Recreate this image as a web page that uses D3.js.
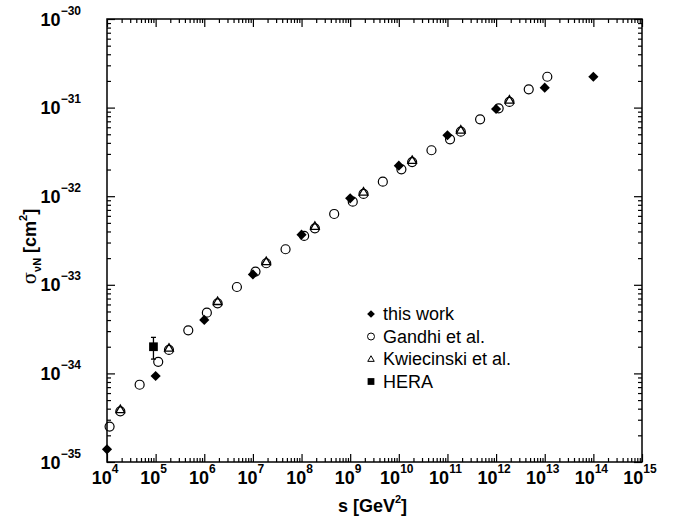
<!DOCTYPE html>
<html lang="en">
<head>
<meta charset="UTF-8">
<title>Neutrino-nucleon cross section</title>
<script src="https://d3js.org/d3.v7.min.js"></script>
<style>
  body { margin: 0; background: #fff; }
  svg { display: block; font-family: "Liberation Sans", Arial, sans-serif; }
  .tick-label { font-weight: bold; font-size: 18px; }
  .axis path { display: none; }
  .axis line { stroke: #000; stroke-width: 1.2px; }
  .legend text { font-size: 18px; }
</style>
</head>
<body>
<div id="chart"></div>
<script>
// --- data ---
const xTickExp = [4, 5, 6, 7, 8, 9, 10, 11, 12, 13, 14, 15];
const yTickExp = [-35, -34, -33, -32, -31, -30];

// this work
const workS = [1e4, 1e5, 1e6, 1e7, 1e8, 1e9, 1e10, 1e11, 1e12, 1e13, 1e14];
const workSigma = [1.39e-35, 9.35e-35, 4.01e-34, 1.31e-33, 3.68e-33, 9.47e-33,
                   2.21e-32, 4.87e-32, 9.64e-32, 1.68e-31, 2.23e-31];

// Gandhi et al.
const gandhiS = [1.13e4, 1.88e4, 4.69e4, 1.13e5, 1.88e5, 4.69e5, 1.13e6, 1.88e6, 4.69e6,
                 1.13e7, 1.88e7, 4.69e7, 1.13e8, 1.88e8, 4.69e8, 1.13e9, 1.88e9, 4.69e9,
                 1.13e10, 1.88e10, 4.69e10, 1.13e11, 1.88e11, 4.69e11, 1.13e12, 1.88e12,
                 4.69e12, 1.13e13];
const gandhiSigma = [2.51e-35, 3.73e-35, 7.45e-35, 1.35e-34, 1.84e-34, 3.06e-34, 4.84e-34,
                     6.18e-34, 9.44e-34, 1.41e-33, 1.75e-33, 2.52e-33, 3.56e-33, 4.34e-33,
                     6.30e-33, 8.67e-33, 1.06e-32, 1.46e-32, 2.01e-32, 2.43e-32, 3.30e-32,
                     4.39e-32, 5.35e-32, 7.38e-32, 9.82e-32, 1.16e-31, 1.61e-31, 2.23e-31];

// Kwiecinski et al.
const kwS = [1.88e4, 1.88e5, 1.88e6, 1.88e7, 1.88e8, 1.88e9, 1.88e10, 1.88e11, 1.88e12];
const kwSigma = [3.85e-35, 1.9e-34, 6.4e-34, 1.8e-33, 4.5e-33, 1.1e-32, 2.5e-32, 5.5e-32, 1.2e-31];

// HERA
const heraS = [9.02e4];
const heraSigma = [2.0e-34];
const heraHi = [2.55e-34];
const heraLo = [1.45e-34];

const legendLabels = ["this work", "Gandhi et al.", "Kwiecinski et al.", "HERA"];

// --- layout ---
const width = 678, height = 518;
const mLeft = 107, mRight = 642, mTop = 19, mBottom = 462;

const svg = d3.select("#chart").append("svg")
    .attr("width", width)
    .attr("height", height);

const x = d3.scaleLog().domain([1e4, 1e15]).range([mLeft, mRight]);
const y = d3.scaleLog().domain([1e-35, 1e-30]).range([mBottom, mTop]);

// major / minor tick values
const xMajor = xTickExp.map(e => Math.pow(10, e));
const yMajor = yTickExp.map(e => Math.pow(10, e));
const xMinor = [], yMinor = [];
xTickExp.slice(0, -1).forEach(e => d3.range(2, 10).forEach(k => xMinor.push(k * Math.pow(10, e))));
yTickExp.slice(0, -1).forEach(e => d3.range(2, 10).forEach(k => yMinor.push(k * Math.pow(10, e))));

function drawAxis(gen, transform) {
    svg.append("g").attr("class", "axis").attr("transform", transform).call(gen);
}
// bottom / top
drawAxis(d3.axisBottom(x).tickValues(xMajor).tickSize(-8).tickFormat(""), `translate(0,${mBottom})`);
drawAxis(d3.axisBottom(x).tickValues(xMinor).tickSize(-4).tickFormat(""), `translate(0,${mBottom})`);
drawAxis(d3.axisTop(x).tickValues(xMajor).tickSize(-8).tickFormat(""), `translate(0,${mTop})`);
drawAxis(d3.axisTop(x).tickValues(xMinor).tickSize(-4).tickFormat(""), `translate(0,${mTop})`);
// left / right
drawAxis(d3.axisLeft(y).tickValues(yMajor).tickSize(-8).tickFormat(""), `translate(${mLeft},0)`);
drawAxis(d3.axisLeft(y).tickValues(yMinor).tickSize(-4).tickFormat(""), `translate(${mLeft},0)`);
drawAxis(d3.axisRight(y).tickValues(yMajor).tickSize(-8).tickFormat(""), `translate(${mRight},0)`);
drawAxis(d3.axisRight(y).tickValues(yMinor).tickSize(-4).tickFormat(""), `translate(${mRight},0)`);

// frame
svg.append("rect")
    .attr("x", mLeft).attr("y", mTop)
    .attr("width", mRight - mLeft).attr("height", mBottom - mTop)
    .attr("fill", "none").attr("stroke", "#000").attr("stroke-width", 1.5);

// tick labels with superscripts
const xl = svg.append("g").selectAll("text").data(xTickExp).join("text")
    .attr("class", "tick-label")
    .attr("x", d => x(Math.pow(10, d)) - 2)
    .attr("y", mBottom + 22)
    .attr("text-anchor", "middle");
xl.append("tspan").text("10");
xl.append("tspan").attr("dy", -11).attr("font-size", 12).text(d => d);

const yl = svg.append("g").selectAll("text").data(yTickExp).join("text")
    .attr("class", "tick-label")
    .attr("x", 81)
    .attr("y", d => y(Math.pow(10, d)) + 6.5)
    .attr("text-anchor", "end");
yl.append("tspan").text("10");
yl.append("tspan").attr("dy", -11).attr("font-size", 12).text(d => "\u2212" + Math.abs(d));

// axis titles
const xt = svg.append("text")
    .attr("x", (mLeft + mRight) / 2 - 2)
    .attr("y", 512)
    .attr("text-anchor", "middle")
    .attr("font-weight", "bold")
    .attr("font-size", 18);
xt.append("tspan").text("s [GeV");
xt.append("tspan").attr("dy", -9).attr("font-size", 11).text("2");
xt.append("tspan").attr("dy", 9).text("]");

const yt = svg.append("text")
    .attr("transform", `translate(36,${(mTop + mBottom) / 2 + 6}) rotate(-90)`)
    .attr("text-anchor", "middle")
    .attr("font-size", 18);
yt.append("tspan").attr("font-family", "DejaVu Serif, serif").attr("font-size", 18).text("\u03c3");
yt.append("tspan").attr("dy", 5).attr("font-size", 11).attr("font-weight", "bold").text("\u03bdN");
yt.append("tspan").attr("dy", -5).attr("font-weight", "bold").text(" [cm");
yt.append("tspan").attr("dy", -9).attr("font-size", 11).attr("font-weight", "bold").text("2");
yt.append("tspan").attr("dy", 9).attr("font-weight", "bold").text("]");

// --- markers ---
const plot = svg.append("g");
const diamond = d3.symbol().type(d3.symbolDiamond2).size(66);
const triangle = d3.symbol().type(d3.symbolTriangle2).size(54);
const square = d3.symbol().type(d3.symbolSquare).size(76);

// HERA error bar
heraS.forEach((s, i) => {
    plot.append("line")
        .attr("x1", x(s)).attr("x2", x(s))
        .attr("y1", y(heraHi[i])).attr("y2", y(heraLo[i]))
        .attr("stroke", "#000").attr("stroke-width", 1.3);
    [heraHi[i], heraLo[i]].forEach(v => plot.append("line")
        .attr("x1", x(s) - 2.5).attr("x2", x(s) + 2.5)
        .attr("y1", y(v)).attr("y2", y(v))
        .attr("stroke", "#000").attr("stroke-width", 1.3));
});
plot.selectAll(".hera").data(heraS).join("path")
    .attr("class", "hera")
    .attr("transform", (d, i) => `translate(${x(d)},${y(heraSigma[i])})`)
    .attr("d", square).attr("fill", "#000");

plot.selectAll(".work").data(workS).join("path")
    .attr("class", "work")
    .attr("transform", (d, i) => `translate(${x(d)},${y(workSigma[i])})`)
    .attr("d", diamond).attr("fill", "#000");

plot.selectAll(".gandhi").data(gandhiS).join("circle")
    .attr("class", "gandhi")
    .attr("cx", d => x(d)).attr("cy", (d, i) => y(gandhiSigma[i]))
    .attr("r", 4.5)
    .attr("fill", "none").attr("stroke", "#000").attr("stroke-width", 1.2);

plot.selectAll(".kw").data(kwS).join("path")
    .attr("class", "kw")
    .attr("transform", (d, i) => `translate(${x(d)},${y(kwSigma[i])})`)
    .attr("d", triangle)
    .attr("fill", "none").attr("stroke", "#000").attr("stroke-width", 1.3);

// --- legend ---
const lg = svg.append("g").attr("class", "legend");
const rowY = [314, 336.5, 359, 381.5];
const lx = 371;
lg.append("path").attr("transform", `translate(${lx},${rowY[0]})`)
    .attr("d", d3.symbol().type(d3.symbolDiamond2).size(38)).attr("fill", "#000");
lg.append("circle").attr("cx", lx).attr("cy", rowY[1]).attr("r", 3.5)
    .attr("fill", "none").attr("stroke", "#000").attr("stroke-width", 1);
lg.append("path").attr("transform", `translate(${lx},${rowY[2] + 0.5})`)
    .attr("d", d3.symbol().type(d3.symbolTriangle2).size(30))
    .attr("fill", "none").attr("stroke", "#000").attr("stroke-width", 1);
lg.append("path").attr("transform", `translate(${lx},${rowY[3]})`)
    .attr("d", d3.symbol().type(d3.symbolSquare).size(46)).attr("fill", "#000");
lg.selectAll("text").data(legendLabels).join("text")
    .attr("x", 383)
    .attr("y", (d, i) => rowY[i] + 6.3)
    .text(d => d);
</script>
</body>
</html>
